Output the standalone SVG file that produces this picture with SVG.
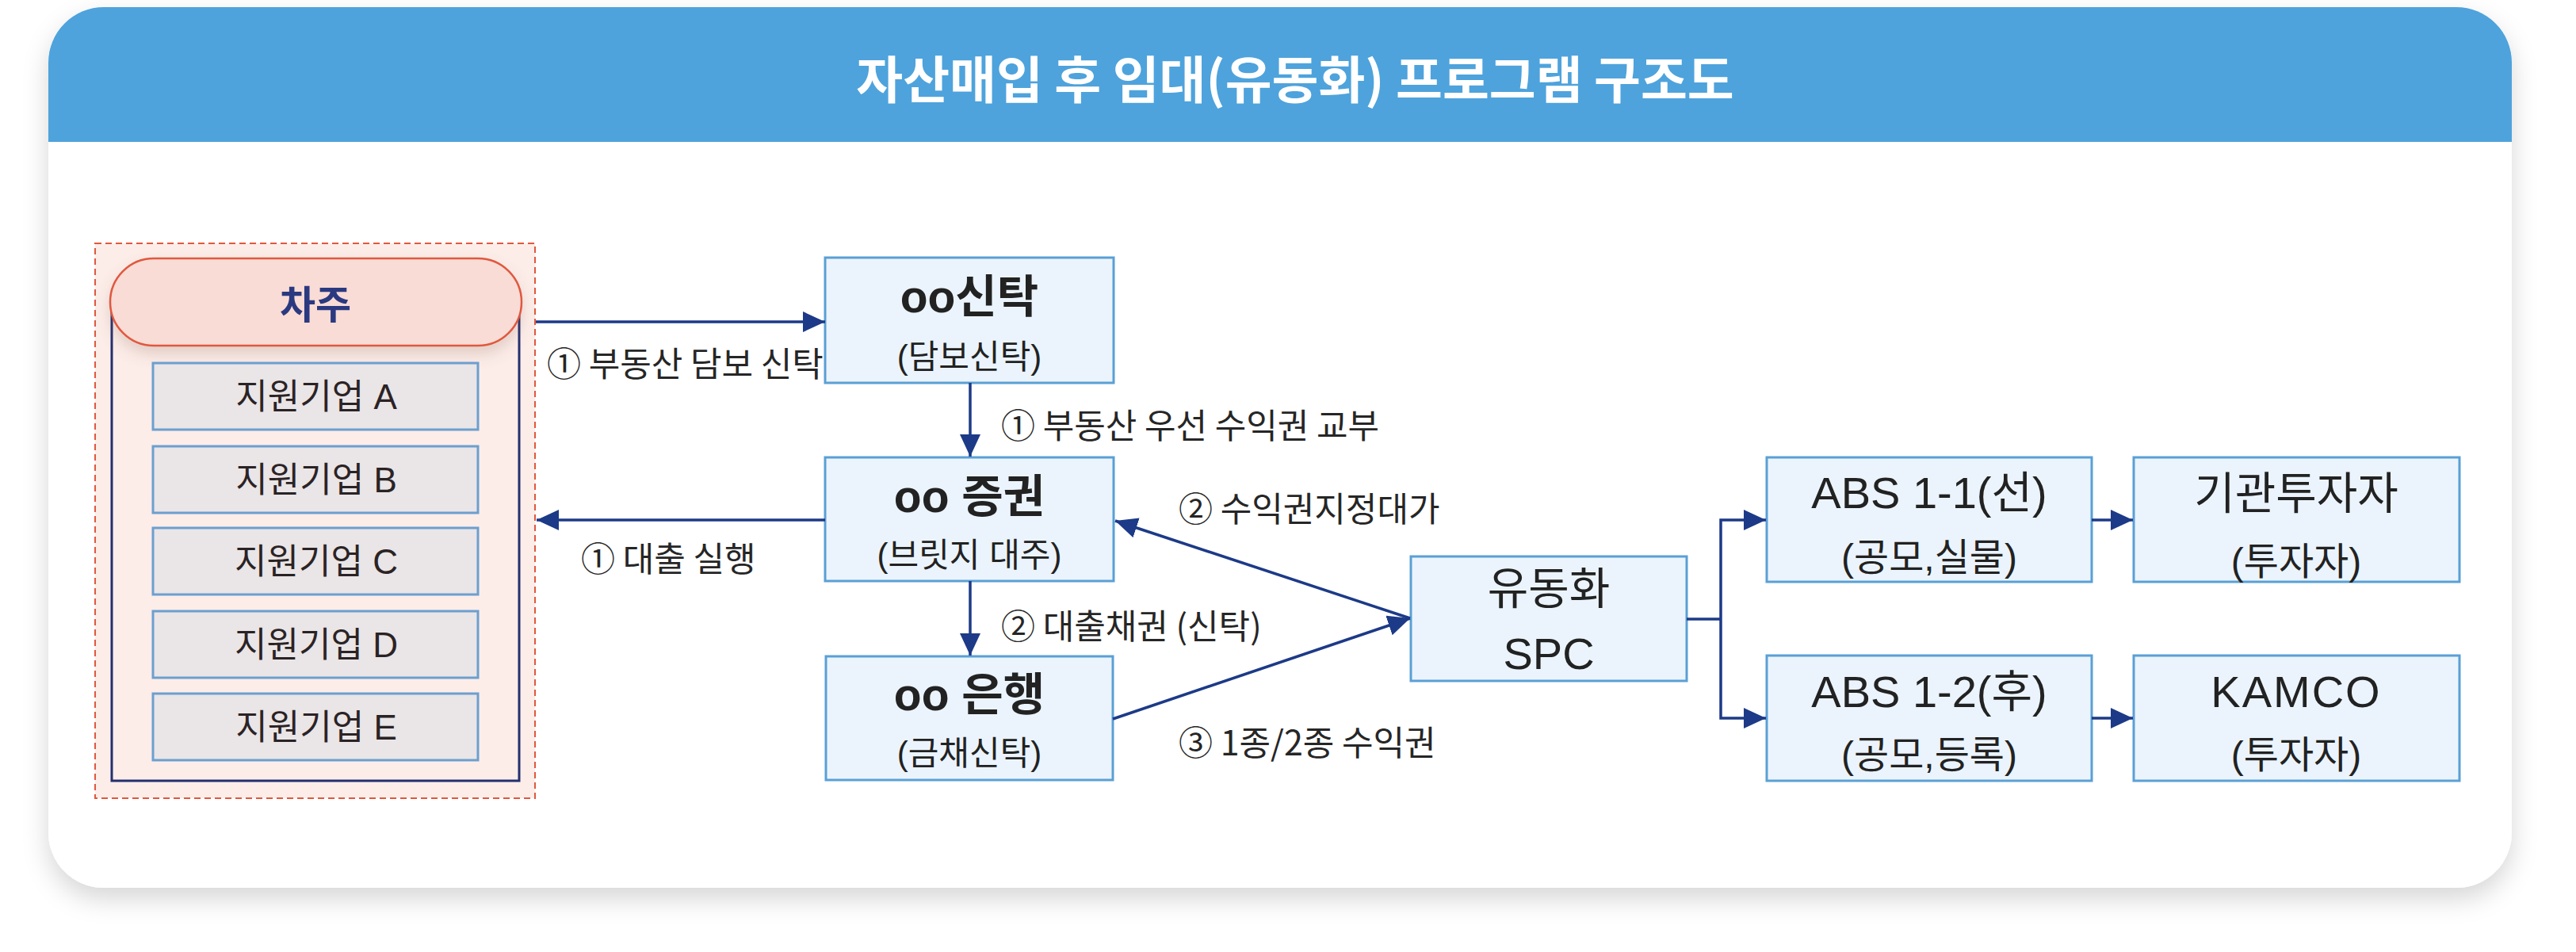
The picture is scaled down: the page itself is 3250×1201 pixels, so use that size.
<svg xmlns="http://www.w3.org/2000/svg" width="3250" height="1201" viewBox="0 0 3250 1201">
  <style>
    .lbl { font-family: "Noto Sans CJK KR", "Noto Sans", sans-serif; font-size: 43px; fill: #262626; dominant-baseline: central; }
    .ttl { font-family: "Liberation Sans", "Noto Sans CJK KR", sans-serif; font-size: 57px; font-weight: 700; fill: #222; text-anchor: middle; dominant-baseline: central; }
    .ttr { font-family: "Liberation Sans", "Noto Sans CJK KR", sans-serif; font-size: 56px; font-weight: 400; fill: #222; text-anchor: middle; dominant-baseline: central; }
    .sub { font-family: "Liberation Sans", "Noto Sans CJK KR", sans-serif; font-size: 42px; fill: #222; text-anchor: middle; dominant-baseline: central; }
    .subr { font-family: "Liberation Sans", "Noto Sans CJK KR", sans-serif; font-size: 48px; fill: #222; text-anchor: middle; dominant-baseline: central; }
    .co { font-family: "Liberation Sans", "Noto Sans CJK KR", sans-serif; font-size: 44px; fill: #2a2325; text-anchor: middle; dominant-baseline: central; }
    .box { fill: #EBF4FC; stroke: #5AA0D5; stroke-width: 3; }
    .cbox { fill: #EAE5E6; stroke: #6C9FCF; stroke-width: 3; }
    .conn { stroke: #1C3A87; stroke-width: 3.5; fill: none; }
  </style>
  <defs>
    <filter id="cardShadow" x="-5%" y="-10%" width="110%" height="125%">
      <feDropShadow dx="0" dy="14" stdDeviation="16" flood-color="#000" flood-opacity="0.16"/>
    </filter>
    <filter id="pillShadow" x="-10%" y="-30%" width="120%" height="180%">
      <feDropShadow dx="0" dy="10" stdDeviation="9" flood-color="#8a5a50" flood-opacity="0.22"/>
    </filter>
    <marker id="arr" markerUnits="userSpaceOnUse" markerWidth="30" markerHeight="28" refX="28" refY="13" orient="auto">
      <path d="M0,0 L28,13 L0,26 Z" fill="#1C3A87"/>
    </marker>
  </defs>

  <rect width="3250" height="1201" fill="#ffffff"/>

  <!-- card -->
  <g id="card">
    <rect x="61" y="9" width="3108" height="1111" rx="70" ry="70" fill="#ffffff" filter="url(#cardShadow)"/>
    <path d="M61,179 L61,79 A70,70 0 0 1 131,9 L3099,9 A70,70 0 0 1 3169,79 L3169,179 Z" fill="#4EA3DC"/>
    <text x="1634" y="96" font-family="'Noto Sans CJK KR', sans-serif" font-size="64" font-weight="700" fill="#ffffff" text-anchor="middle" dominant-baseline="central">자산매입 후 임대(유동화) 프로그램 구조도</text>
  </g>

  <!-- borrower group -->
  <g id="borrower">
    <rect x="120" y="307" width="555" height="700" fill="#FCEDE9" stroke="#E0583E" stroke-width="2" stroke-dasharray="8 5"/>
    <rect x="141" y="381" width="514" height="604" fill="none" stroke="#23306F" stroke-width="3"/>
    <rect x="139" y="326" width="519" height="110" rx="55" ry="55" fill="#F9DCD5" stroke="#E0593F" stroke-width="2.5" filter="url(#pillShadow)"/>
    <text x="398" y="380" font-family="'Noto Sans CJK KR', sans-serif" font-size="49" font-weight="700" fill="#2B3A80" text-anchor="middle" dominant-baseline="central">차주</text>
  </g>
  <g id="company-a">
    <rect class="cbox" x="193" y="458" width="410" height="84"/>
    <text class="co" x="399" y="500">지원기업 A</text>
  </g>
  <g id="company-b">
    <rect class="cbox" x="193" y="563" width="410" height="84"/>
    <text class="co" x="399" y="605">지원기업 B</text>
  </g>
  <g id="company-c">
    <rect class="cbox" x="193" y="666" width="410" height="84"/>
    <text class="co" x="399" y="708">지원기업 C</text>
  </g>
  <g id="company-d">
    <rect class="cbox" x="193" y="771" width="410" height="84"/>
    <text class="co" x="399" y="813">지원기업 D</text>
  </g>
  <g id="company-e">
    <rect class="cbox" x="193" y="875" width="410" height="84"/>
    <text class="co" x="399" y="917">지원기업 E</text>
  </g>

  <!-- nodes -->
  <g id="trust">
    <rect class="box" x="1041" y="325" width="364" height="158"/>
    <text class="ttl" x="1223" y="374">oo신탁</text>
    <text class="sub" x="1223" y="450">(담보신탁)</text>
  </g>
  <g id="securities">
    <rect class="box" x="1041" y="577" width="364" height="156"/>
    <text class="ttl" x="1223" y="626">oo 증권</text>
    <text class="sub" x="1223" y="700">(브릿지 대주)</text>
  </g>
  <g id="bank">
    <rect class="box" x="1042" y="828" width="362" height="156"/>
    <text class="ttl" x="1223" y="876">oo 은행</text>
    <text class="sub" x="1223" y="950">(금채신탁)</text>
  </g>
  <g id="spc">
    <rect class="box" x="1780" y="702" width="348" height="157"/>
    <text class="ttr" x="1954" y="742">유동화</text>
    <text class="ttr" x="1954" y="824">SPC</text>
  </g>
  <g id="abs11">
    <rect class="box" x="2229" y="577" width="410" height="157"/>
    <text class="ttr" x="2434" y="621">ABS 1-1(선)</text>
    <text class="subr" x="2434" y="703">(공모,실물)</text>
  </g>
  <g id="abs12">
    <rect class="box" x="2229" y="827" width="410" height="158"/>
    <text class="ttr" x="2434" y="872">ABS 1-2(후)</text>
    <text class="subr" x="2434" y="952">(공모,등록)</text>
  </g>
  <g id="institutional">
    <rect class="box" x="2692" y="577" width="411" height="157"/>
    <text class="ttr" x="2897" y="622">기관투자자</text>
    <text class="subr" x="2897" y="708">(투자자)</text>
  </g>
  <g id="kamco">
    <rect class="box" x="2692" y="827" width="411" height="158"/>
    <text class="ttr" x="2897" y="872" letter-spacing="2">KAMCO</text>
    <text class="subr" x="2897" y="952">(투자자)</text>
  </g>

  <!-- connectors -->
  <g id="connectors">
    <line class="conn" x1="676" y1="406" x2="1041" y2="406" marker-end="url(#arr)"/>
    <line class="conn" x1="1224" y1="483" x2="1224" y2="576" marker-end="url(#arr)"/>
    <line class="conn" x1="1041" y1="656" x2="677" y2="656" marker-end="url(#arr)"/>
    <line class="conn" x1="1224" y1="733" x2="1224" y2="827" marker-end="url(#arr)"/>
    <line class="conn" x1="1779" y1="780" x2="1407" y2="657" marker-end="url(#arr)"/>
    <line class="conn" x1="1404" y1="907" x2="1779" y2="780" marker-end="url(#arr)"/>
    <polyline class="conn" points="2128,781 2171,781"/>
    <polyline class="conn" points="2171,781 2171,656 2228,656" marker-end="url(#arr)"/>
    <polyline class="conn" points="2171,781 2171,906 2228,906" marker-end="url(#arr)"/>
    <line class="conn" x1="2639" y1="656" x2="2691" y2="656" marker-end="url(#arr)"/>
    <line class="conn" x1="2639" y1="906" x2="2691" y2="906" marker-end="url(#arr)"/>
  </g>

  <!-- connector labels -->
  <g id="labels">
    <text class="lbl" x="690" y="456">① 부동산 담보 신탁</text>
    <text class="lbl" x="1263" y="534">① 부동산 우선 수익권 교부</text>
    <text class="lbl" x="733" y="702">① 대출 실행</text>
    <text class="lbl" x="1263" y="787">② 대출채권 (신탁)</text>
    <text class="lbl" x="1487" y="639">② 수익권지정대가</text>
    <text class="lbl" x="1487" y="934">③ 1종/2종 수익권</text>
  </g>
</svg>
